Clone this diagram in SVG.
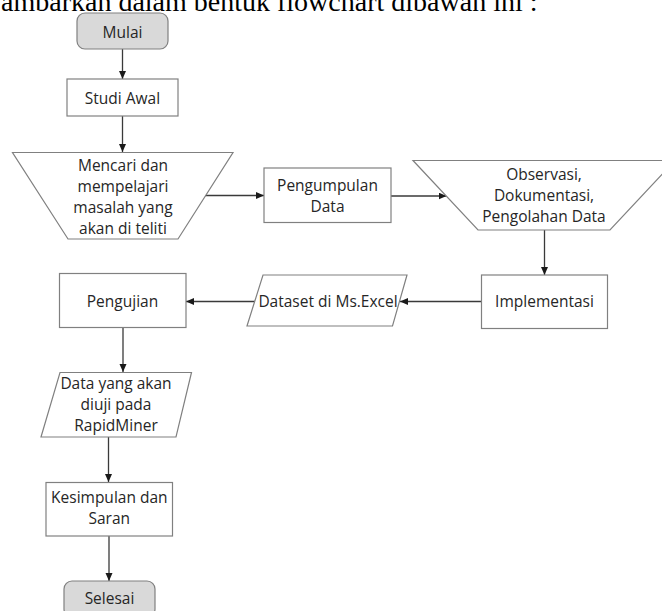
<svg xmlns="http://www.w3.org/2000/svg" width="662" height="611" viewBox="0 0 662 611">
<style>
.shape{fill:#ffffff;stroke:#808080;stroke-width:1.2}
.term{fill:#d9d9d9;stroke:#808080;stroke-width:1.2}
.lbl{font-family:"Open Sans","Noto Sans",sans-serif;font-size:15.5px;fill:#262626;text-anchor:middle}
.conn{fill:none;stroke:#3a3a3a;stroke-width:1.3;marker-end:url(#arr)}
</style>
<defs>
<marker id="arr" markerUnits="userSpaceOnUse" markerWidth="9" markerHeight="8" refX="8" refY="3.5" orient="auto">
<path d="M0,0 L8,3.5 L0,7 z" fill="#1a1a1a"/>
</marker>
</defs>
<rect width="662" height="611" fill="#ffffff"/>
<text x="1" y="10.5" font-family="'Liberation Serif',serif" font-size="28" fill="#000">ambarkan dalam bentuk flowchart dibawah ini :</text>
<g id="connectors">
<path class="conn" d="M122.5,49 V79"/>
<path class="conn" d="M122.5,116 V152"/>
<path class="conn" d="M205,195.5 H264"/>
<path class="conn" d="M391,196 H446.5"/>
<path class="conn" d="M544.5,230 V275"/>
<path class="conn" d="M481.5,301.5 H400"/>
<path class="conn" d="M255,301.5 H186"/>
<path class="conn" d="M123,327.5 V372"/>
<path class="conn" d="M108.5,437 V482"/>
<path class="conn" d="M109,536 V581"/>
</g>
<g id="mulai">
<rect class="term" x="77" y="13" width="91" height="36" rx="8"/>
<text class="lbl" x="122.5" y="37.5">Mulai</text>
</g>
<g id="studi-awal">
<rect class="shape" x="67" y="79" width="111" height="37"/>
<text class="lbl" x="122.5" y="103.5">Studi Awal</text>
</g>
<g id="mencari">
<polygon class="shape" points="12.5,152.5 233,152.5 178,239 68,239"/>
<text class="lbl" x="123" y="171">Mencari dan</text>
<text class="lbl" x="123" y="192">mempelajari</text>
<text class="lbl" x="123" y="213">masalah yang</text>
<text class="lbl" x="123" y="234">akan di teliti</text>
</g>
<g id="pengumpulan">
<rect class="shape" x="264" y="168" width="127" height="54.5"/>
<text class="lbl" x="327.5" y="190.5">Pengumpulan</text>
<text class="lbl" x="327.5" y="211.5">Data</text>
</g>
<g id="observasi">
<polygon class="shape" points="413,160.5 675,160.5 610,230 478,230"/>
<text class="lbl" x="544" y="180">Observasi,</text>
<text class="lbl" x="544" y="201">Dokumentasi,</text>
<text class="lbl" x="544" y="222">Pengolahan Data</text>
</g>
<g id="implementasi">
<rect class="shape" x="481.5" y="275" width="126" height="53.5"/>
<text class="lbl" x="544.5" y="306.5">Implementasi</text>
</g>
<g id="dataset">
<polygon class="shape" points="263,275 407,275 392.5,326 247,326"/>
<text class="lbl" x="328" y="306.5">Dataset di Ms.Excel</text>
</g>
<g id="pengujian">
<rect class="shape" x="59.5" y="273.5" width="126.5" height="54"/>
<text class="lbl" x="122.5" y="306.5">Pengujian</text>
</g>
<g id="data-rapidminer">
<polygon class="shape" points="60,372.5 191.5,372.5 176,437 41,437"/>
<text class="lbl" x="116" y="389">Data yang akan</text>
<text class="lbl" x="116" y="410">diuji pada</text>
<text class="lbl" x="116" y="431">RapidMiner</text>
</g>
<g id="kesimpulan">
<rect class="shape" x="46" y="482.5" width="126.5" height="53.5"/>
<text class="lbl" x="109.3" y="503">Kesimpulan dan</text>
<text class="lbl" x="109.3" y="524">Saran</text>
</g>
<g id="selesai">
<rect class="term" x="64" y="581" width="91" height="36" rx="8"/>
<text class="lbl" x="109.5" y="604">Selesai</text>
</g>
</svg>
